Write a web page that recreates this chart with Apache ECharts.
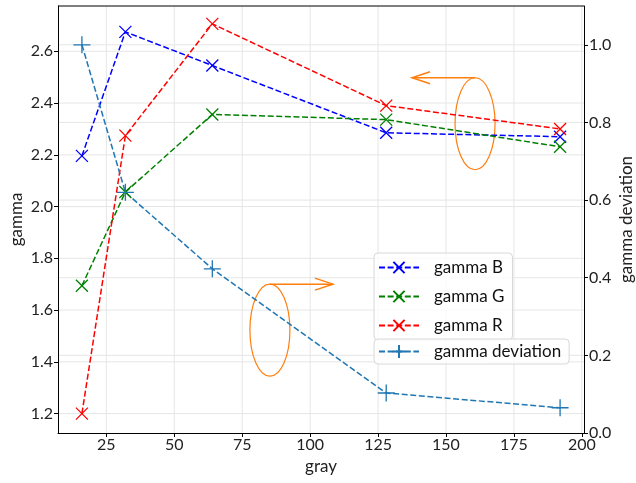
<!DOCTYPE html>
<html>
<head>
<meta charset="utf-8">
<script src="https://cdn.jsdelivr.net/npm/echarts@6/dist/echarts.min.js"></script>
<style>
  html, body { margin: 0; padding: 0; background: #fff; }
  #chart { width: 636px; height: 483px; }
</style>
</head>
<body>
<div id="chart"></div>
<script>
// valores
const gray = [16, 32, 64, 128, 192];
const gammaB = [2.196, 2.675, 2.545, 2.285, 2.27];
const gammaG = [1.694, 2.056, 2.356, 2.336, 2.231];
const gammaR = [1.2, 2.274, 2.706, 2.39, 2.3];
const gammaDev = [1.0, 0.62, 0.423, 0.103, 0.065];
const xTicks = [25, 50, 75, 100, 125, 150, 175, 200];
const gTicks = [1.2, 1.4, 1.6, 1.8, 2.0, 2.2, 2.4, 2.6];
const dTicks = [0.0, 0.2, 0.4, 0.6, 0.8, 1.0];

const FONT = 'Lato';
const markX = 'path://M0,0L10,10M10,0L0,10';
const markPlus = 'path://M5,0L5,10M0,5L10,5';

function pares(ys) {
  return gray.map((g, i) => [g, ys[i]]);
}

function serie(name, ys, color, symbol, size, yIdx) {
  return {
    name: name,
    type: 'line',
    yAxisIndex: yIdx,
    data: pares(ys),
    symbol: symbol,
    symbolSize: size,
    lineStyle: { color: color, width: 1.5, type: [6, 2.6] },
    itemStyle: { color: color, borderColor: color, borderWidth: 1.3 },
    emphasis: { disabled: true },
    animation: false
  };
}

const chart = echarts.init(document.getElementById('chart'));

const gridColor = '#e6e6e6';
const nameStyle = { fontSize: 17, color: '#222', fontFamily: FONT };
const option = {
  backgroundColor: '#ffffff',
  textStyle: { fontFamily: FONT },
  grid: { left: 58, right: 52, top: 6, bottom: 50, outerBoundsMode: 'none', containLabel: false },
  xAxis: {
    type: 'value', min: 7.2, max: 200.8,
    name: 'gray', nameLocation: 'middle', nameGap: 25, nameMoveOverlap: false,
    nameTextStyle: nameStyle,
    axisLine: { onZero: false, lineStyle: { color: '#000', width: 1 } },
    axisTick: { show: true, length: 4, lineStyle: { color: '#000' }, customValues: xTicks },
    axisLabel: { fontSize: 16, color: '#222', margin: 4, customValues: xTicks },
    splitLine: { show: false }
  },
  yAxis: [{
    type: 'value', min: 1.125, max: 2.775,
    name: 'gamma', nameLocation: 'middle', nameGap: 33, nameMoveOverlap: false,
    nameTextStyle: nameStyle,
    axisLine: { show: true, onZero: false, lineStyle: { color: '#000' } },
    axisTick: { show: true, length: 4, lineStyle: { color: '#000' }, customValues: gTicks },
    axisLabel: { fontSize: 16, color: '#222', margin: 5, formatter: v => v.toFixed(1), customValues: gTicks },
    splitLine: { show: false }
  }, {
    type: 'value', min: 0, max: 1.1, position: 'right',
    name: 'gamma deviation', nameLocation: 'middle', nameGap: 34, nameMoveOverlap: false,
    nameTextStyle: nameStyle,
    axisLine: { show: true, onZero: false, lineStyle: { color: '#000' } },
    axisTick: { show: true, length: 4, lineStyle: { color: '#000' }, customValues: dTicks },
    axisLabel: { fontSize: 16, color: '#222', margin: 5, formatter: v => v.toFixed(1), customValues: dTicks },
    splitLine: { show: false }
  }],
  legend: [{
    orient: 'vertical', left: 374, top: 253,
    data: ['gamma B', 'gamma G', 'gamma R'],
    itemWidth: 40, itemHeight: 14, itemGap: 12,
    padding: [6, 8, 6, 4],
    backgroundColor: 'rgba(255,255,255,0.8)', borderColor: '#d8d8d8', borderWidth: 1, borderRadius: 4,
    textStyle: { fontSize: 17, color: '#111', fontFamily: FONT, padding: [0, 0, 0, 10] }
  }, {
    orient: 'vertical', left: 374, top: 339,
    data: ['gamma deviation'],
    itemWidth: 40, itemHeight: 16,
    padding: [4, 8, 4, 4],
    backgroundColor: 'rgba(255,255,255,0.8)', borderColor: '#d8d8d8', borderWidth: 1, borderRadius: 4,
    textStyle: { fontSize: 17, color: '#111', fontFamily: FONT, padding: [0, 0, 0, 10] }
  }],
  series: [
    serie('gamma B', gammaB, '#0000ff', markX, 12, 0),
    serie('gamma G', gammaG, '#008000', markX, 12, 0),
    serie('gamma R', gammaR, '#ff0000', markX, 12, 0),
    serie('gamma deviation', gammaDev, '#1f77b4', markPlus, 17, 1)
  ]
};
chart.setOption(option);

// rejilla de ambos ejes y anotaciones naranjas, en coordenadas de datos
function dibujarExtras() {
  const els = [];
  const p0 = chart.convertToPixel({ xAxisIndex: 0, yAxisIndex: 0 }, [7.2, 1.125]);
  const p1 = chart.convertToPixel({ xAxisIndex: 0, yAxisIndex: 0 }, [200.8, 2.775]);
  const gl = (x1, y1, x2, y2) => els.push({ type: 'line', z: -1, silent: true,
    shape: { x1: x1, y1: y1, x2: x2, y2: y2 }, style: { stroke: gridColor, lineWidth: 1 } });
  xTicks.forEach(v => { const x = chart.convertToPixel({ xAxisIndex: 0 }, v); gl(x, p1[1], x, p0[1]); });
  gTicks.forEach(v => { const y = chart.convertToPixel({ yAxisIndex: 0 }, v); gl(p0[0], y, p1[0], y); });
  dTicks.slice(1).forEach(v => { const y = chart.convertToPixel({ yAxisIndex: 1 }, v); gl(p0[0], y, p1[0], y); });
  // marco superior
  els.push({ type: 'line', silent: true, shape: { x1: p0[0], y1: p1[1], x2: p1[0], y2: p1[1] }, style: { stroke: '#000', lineWidth: 1 } });

  const orange = '#ff7f0e';
  function anotacion(c, dir) {
    const rx = 20, ry = 46;
    els.push({ type: 'ellipse', silent: true, shape: { cx: c[0], cy: c[1], rx: rx, ry: ry },
      style: { fill: 'none', stroke: orange, lineWidth: 1.2 } });
    const y = c[1] - ry;
    const xEnd = c[0] + dir * 63;
    els.push({ type: 'line', silent: true, shape: { x1: c[0], y1: y, x2: xEnd, y2: y },
      style: { stroke: orange, lineWidth: 1.5 } });
    els.push({ type: 'polyline', silent: true,
      shape: { points: [[xEnd - dir * 18, y - 6], [xEnd, y], [xEnd - dir * 18, y + 6]] },
      style: { fill: 'none', stroke: orange, lineWidth: 1.5 } });
  }
  anotacion(chart.convertToPixel({ xAxisIndex: 0, yAxisIndex: 0 }, [160.7, 2.32]), -1);
  anotacion(chart.convertToPixel({ xAxisIndex: 0, yAxisIndex: 1 }, [85.2, 0.265]), 1);
  chart.setOption({ graphic: els });
}
dibujarExtras();
</script>
</body>
</html>
